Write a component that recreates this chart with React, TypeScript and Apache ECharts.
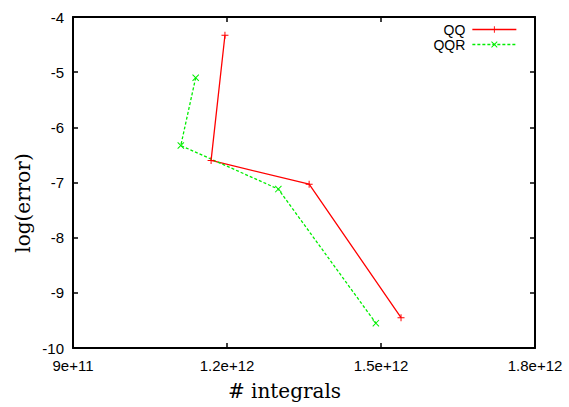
import React, { useEffect, useRef } from "react";
import * as echarts from "echarts";

const seriesNames = ["QQ", "QQR"];
const qqX = [1.196e12, 1.169e12, 1.36e12, 1.539e12];
const qqY = [-4.33, -6.6, -7.03, -9.45];
const qqrX = [1.139e12, 1.11e12, 1.3e12, 1.49e12];
const qqrY = [-5.1, -6.33, -7.12, -9.55];
const xTicks = { min: 9e11, max: 1.8e12, interval: 3e11 };
const yTicks = { min: -10, max: -4, interval: 1 };
const xTitle = "# integrals";
const yTitle = "log(error)";

const PLUS = "path://M0,4.3H10V5.7H0Z M4.3,0H5.7V10H4.3Z";
const CROSS = "path://M0,1L1,0L10,9L9,10Z M9,0L10,1L1,10L0,9Z";

export default function App() {
  const ref = useRef<HTMLDivElement>(null);
  useEffect(() => {
    document.body.style.margin = "0";
    const chart = echarts.init(ref.current!, null, { renderer: "svg" });
    const axisLine = { show: true, lineStyle: { color: "#000", width: 2 } };
    const tick = { show: true, inside: true, length: 5, lineStyle: { color: "#000", width: 1.5 } };
    const labelFont = { fontFamily: "Liberation Sans, Arial, sans-serif", fontSize: 15, color: "#000" };
    chart.setOption({
      animation: false,
      backgroundColor: "#fff",
      grid: { left: 73, top: 17, right: 34, bottom: 59, containLabel: false },
      legend: {
        orient: "vertical",
        right: 52,
        top: 22,
        padding: 0,
        align: "right",
        itemWidth: 44,
        itemHeight: 8,
        itemGap: 0,
        lineStyle: { width: 1.3 },
        textStyle: { ...labelFont, fontSize: 14, lineHeight: 15, padding: [0, 2, 0, 0] },
        data: seriesNames,
      },
      xAxis: [
        {
          type: "value",
          ...xTicks,
          axisLine,
          axisTick: tick,
          splitLine: { show: false },
          axisLabel: { ...labelFont, margin: 10, formatter: (v: number) => v.toExponential() },
        },
        {
          type: "value",
          position: "top",
          ...xTicks,
          axisLine,
          axisTick: tick,
          splitLine: { show: false },
          axisLabel: { show: false },
        },
      ],
      yAxis: [
        {
          type: "value",
          ...yTicks,
          axisLine,
          axisTick: tick,
          splitLine: { show: false },
          axisLabel: { ...labelFont, margin: 9 },
        },
        {
          type: "value",
          position: "right",
          ...yTicks,
          axisLine,
          axisTick: tick,
          splitLine: { show: false },
          axisLabel: { show: false },
        },
      ],
      series: [
        {
          name: seriesNames[0],
          type: "line",
          data: qqX.map((x, i) => [x, qqY[i]]),
          symbol: PLUS,
          symbolSize: 7,
          lineStyle: { color: "#ff0000", width: 1.3 },
          itemStyle: { color: "#ff0000" },
          color: "#ff0000",
        },
        {
          name: seriesNames[1],
          type: "line",
          data: qqrX.map((x, i) => [x, qqrY[i]]),
          symbol: CROSS,
          symbolSize: 7,
          lineStyle: { color: "#00ee00", width: 1.3, type: [3, 2] },
          itemStyle: { color: "#00ee00" },
          color: "#00ee00",
        },
      ],
      graphic: [
        {
          type: "text",
          x: 23,
          y: 203,
          rotation: Math.PI / 2,
          style: {
            text: yTitle,
            fontFamily: "DejaVu Serif, serif",
            fontSize: 20,
            fill: "#000",
            align: "center",
            verticalAlign: "middle",
          },
        },
        {
          type: "text",
          x: 284.5,
          y: 391,
          style: {
            text: xTitle,
            fontFamily: "DejaVu Serif, serif",
            fontSize: 20,
            fill: "#000",
            align: "center",
            verticalAlign: "middle",
          },
        },
      ],
    });
    return () => chart.dispose();
  }, []);
  return <div ref={ref} style={{ width: 569, height: 407 }} />;
}
